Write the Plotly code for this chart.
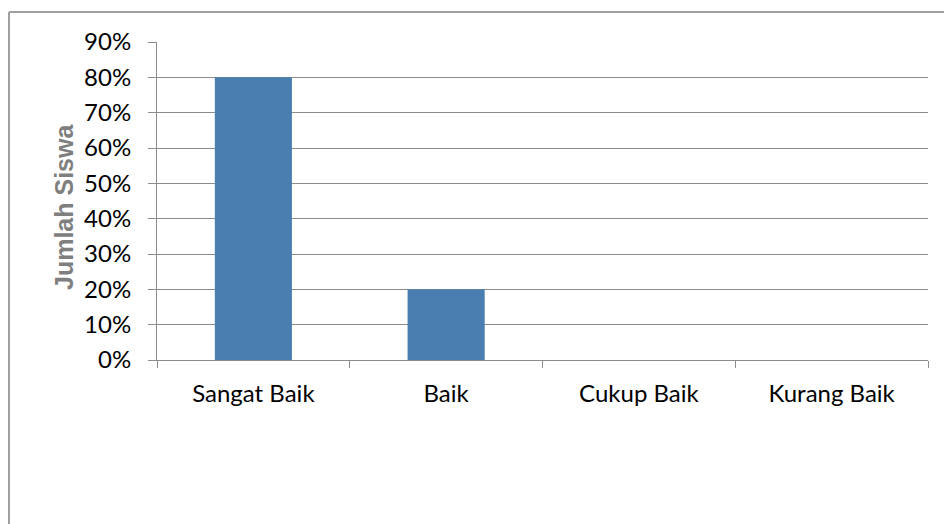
import plotly.graph_objects as go

categories = ["Sangat Baik", "Baik", "Cukup Baik", "Kurang Baik"]
values = [0.80, 0.20, 0.0, 0.0]
y_tick_values = [0, 0.1, 0.2, 0.3, 0.4, 0.5, 0.6, 0.7, 0.8, 0.9]
y_title = "Jumlah Siswa"

W, H = 944, 524
L, R, T, B = 157, 16, 42, 164
pw = W - L - R
ph = H - T - B

def px_x(x):
    return (x - L) / pw

def px_y(y):
    return (H - B - y) / ph

fig = go.Figure()
fig.add_trace(go.Bar(
    x=categories, y=values,
    marker=dict(color="#4A7EB0", line=dict(width=0)),
    width=0.4,
))

grid = "#8C8C8C"
fig.update_layout(
    width=W, height=H,
    margin=dict(l=L, r=R, t=T, b=B, pad=0),
    paper_bgcolor="white", plot_bgcolor="white",
    showlegend=False,
    font=dict(family="Lato", size=20, color="black"),
    xaxis=dict(
        type="category",
        tickson="boundaries",
        ticks="outside", ticklen=7, tickcolor=grid, tickwidth=1,
        showline=True, linecolor=grid, linewidth=1,
        showgrid=False,
        tickfont=dict(family="Lato", size=24, color="black"),
        ticklabelstandoff=12,
        range=[-0.5, 3.5],
    ),
    yaxis=dict(
        range=[0, 0.9],
        tickvals=y_tick_values,
        tickformat=".0%",
        ticks="outside", ticklen=8, tickcolor=grid, tickwidth=1,
        showline=True, linecolor=grid, linewidth=1,
        showgrid=True, gridcolor=grid, gridwidth=1,
        zeroline=False,
        tickfont=dict(family="Lato", size=24, color="black"),
        ticklabelstandoff=12,
    ),
    bargap=0.6,
)

fig.add_annotation(
    text="<b>" + y_title + "</b>", textangle=-90,
    xref="paper", yref="paper", x=px_x(64), y=px_y(207),
    xanchor="center", yanchor="middle", showarrow=False,
    font=dict(family="Liberation Sans", size=25, color="#7F7F7F"),
)

border = "#A0A0A0"
fig.add_shape(type="line", xref="paper", yref="paper",
              x0=px_x(9), x1=px_x(9), y0=px_y(H + 5), y1=px_y(12),
              line=dict(color=border, width=2))
fig.add_shape(type="line", xref="paper", yref="paper",
              x0=px_x(9), x1=px_x(W + 5), y0=px_y(12), y1=px_y(12),
              line=dict(color=border, width=2))

fig.write_html("out.html")
